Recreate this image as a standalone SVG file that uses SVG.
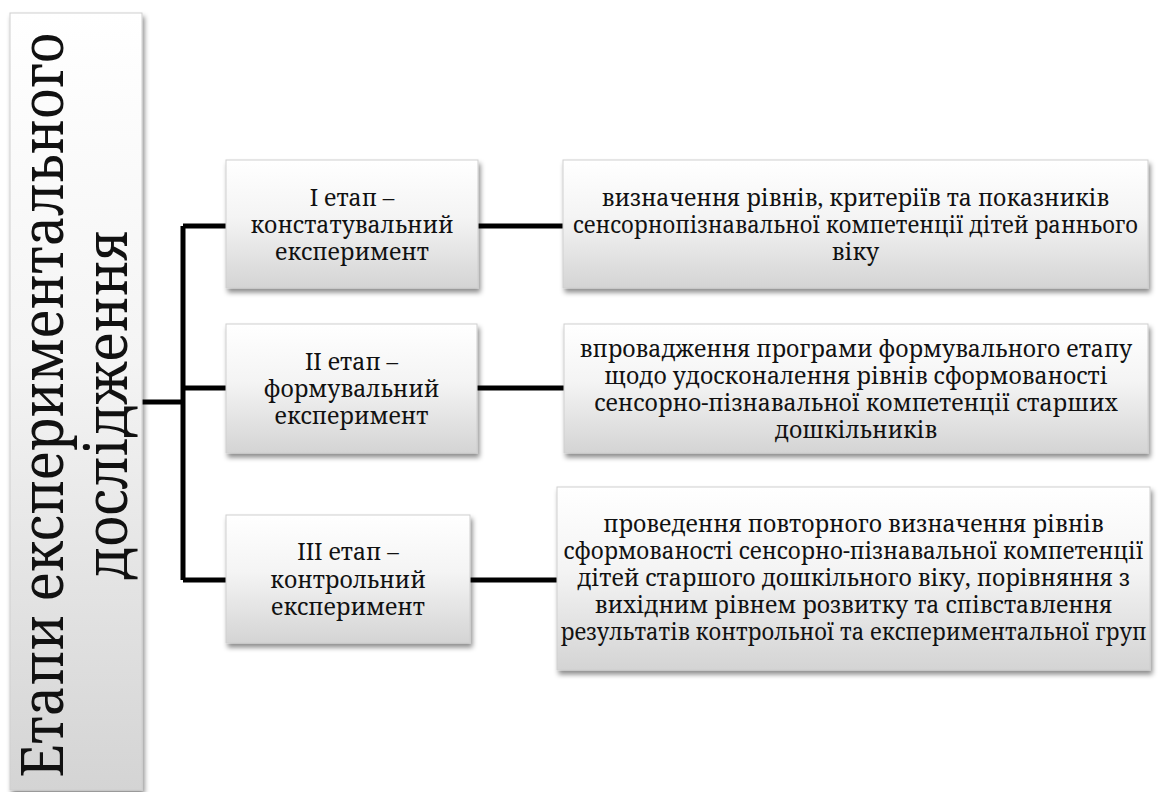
<svg xmlns="http://www.w3.org/2000/svg" width="1158" height="792" viewBox="0 0 1158 792">
<defs>
<linearGradient id="g" x1="0" y1="0" x2="0" y2="1">
<stop offset="0" stop-color="#ffffff"/>
<stop offset="0.45" stop-color="#f4f4f4"/>
<stop offset="1" stop-color="#d4d4d4"/>
</linearGradient>
<filter id="sh" x="-10%" y="-10%" width="120%" height="130%">
<feDropShadow dx="2" dy="4" stdDeviation="2.5" flood-color="#000" flood-opacity="0.45"/>
</filter>
</defs>
<rect width="1158" height="792" fill="#fff"/>
<g id="connectors" stroke="#000" stroke-width="5" fill="none">
<path d="M142 402 H183 M183 226 V580 M183 226 H226 M183 388 H226 M183 580 H226"/>
<path d="M478 226 H563 M477 388 H564 M470 580 H557"/>
</g>
<g id="root">
<rect fill="url(#g)" stroke="#cfcfcf" filter="url(#sh)" x="10" y="13" width="132" height="777"/>
<text font-family="Noto Serif, serif" font-size="58" fill="#111" text-anchor="middle" transform="translate(63,405) rotate(-90)" textLength="745" lengthAdjust="spacingAndGlyphs">Етапи експериментального</text>
<text font-family="Noto Serif, serif" font-size="58" fill="#111" text-anchor="middle" transform="translate(127,405) rotate(-90)" textLength="350" lengthAdjust="spacingAndGlyphs">дослідження</text>
</g>
<g id="stage1">
<rect fill="url(#g)" stroke="#cfcfcf" filter="url(#sh)" x="226" y="160" width="252" height="128"/>
<text font-family="Noto Serif, serif" font-size="23" fill="#111" text-anchor="middle" x="352" y="206">I етап –</text>
<text font-family="Noto Serif, serif" font-size="23" fill="#111" text-anchor="middle" x="352" y="233">констатувальний</text>
<text font-family="Noto Serif, serif" font-size="23" fill="#111" text-anchor="middle" x="352" y="260">експеримент</text>
</g>
<g id="stage2">
<rect fill="url(#g)" stroke="#cfcfcf" filter="url(#sh)" x="226" y="324" width="251" height="129"/>
<text font-family="Noto Serif, serif" font-size="23" fill="#111" text-anchor="middle" x="351.5" y="370">II етап –</text>
<text font-family="Noto Serif, serif" font-size="23" fill="#111" text-anchor="middle" x="351.5" y="397">формувальний</text>
<text font-family="Noto Serif, serif" font-size="23" fill="#111" text-anchor="middle" x="351.5" y="424">експеримент</text>
</g>
<g id="stage3">
<rect fill="url(#g)" stroke="#cfcfcf" filter="url(#sh)" x="226" y="515" width="244" height="128"/>
<text font-family="Noto Serif, serif" font-size="23" fill="#111" text-anchor="middle" x="348" y="560">III етап –</text>
<text font-family="Noto Serif, serif" font-size="23" fill="#111" text-anchor="middle" x="348" y="588">контрольний</text>
<text font-family="Noto Serif, serif" font-size="23" fill="#111" text-anchor="middle" x="348" y="615">експеримент</text>
</g>
<g id="desc1">
<rect fill="url(#g)" stroke="#cfcfcf" filter="url(#sh)" x="563" y="160" width="585" height="128"/>
<text font-family="Noto Serif, serif" font-size="23" fill="#111" text-anchor="middle" x="855.5" y="206">визначення рівнів, критеріїв та показників</text>
<text font-family="Noto Serif, serif" font-size="23" fill="#111" text-anchor="middle" x="855.5" y="233" textLength="565" lengthAdjust="spacingAndGlyphs">сенсорнопізнавальної компетенції дітей раннього</text>
<text font-family="Noto Serif, serif" font-size="23" fill="#111" text-anchor="middle" x="855.5" y="260">віку</text>
</g>
<g id="desc2">
<rect fill="url(#g)" stroke="#cfcfcf" filter="url(#sh)" x="564" y="324" width="584" height="129"/>
<text font-family="Noto Serif, serif" font-size="23" fill="#111" text-anchor="middle" x="856" y="357">впровадження програми формувального етапу</text>
<text font-family="Noto Serif, serif" font-size="23" fill="#111" text-anchor="middle" x="856" y="384">щодо удосконалення рівнів сформованості</text>
<text font-family="Noto Serif, serif" font-size="23" fill="#111" text-anchor="middle" x="856" y="411">сенсорно-пізнавальної компетенції старших</text>
<text font-family="Noto Serif, serif" font-size="23" fill="#111" text-anchor="middle" x="856" y="438">дошкільників</text>
</g>
<g id="desc3">
<rect fill="url(#g)" stroke="#cfcfcf" filter="url(#sh)" x="557" y="487" width="593" height="183"/>
<text font-family="Noto Serif, serif" font-size="23" fill="#111" text-anchor="middle" x="853.5" y="532">проведення повторного визначення рівнів</text>
<text font-family="Noto Serif, serif" font-size="23" fill="#111" text-anchor="middle" x="853.5" y="559" textLength="580" lengthAdjust="spacingAndGlyphs">сформованості сенсорно-пізнавальної компетенції</text>
<text font-family="Noto Serif, serif" font-size="23" fill="#111" text-anchor="middle" x="853.5" y="586">дітей старшого дошкільного віку, порівняння з</text>
<text font-family="Noto Serif, serif" font-size="23" fill="#111" text-anchor="middle" x="853.5" y="613">вихідним рівнем розвитку та співставлення</text>
<text font-family="Noto Serif, serif" font-size="23" fill="#111" text-anchor="middle" x="853.5" y="640" textLength="586" lengthAdjust="spacingAndGlyphs">результатів контрольної та експериментальної груп</text>
</g>
</svg>
